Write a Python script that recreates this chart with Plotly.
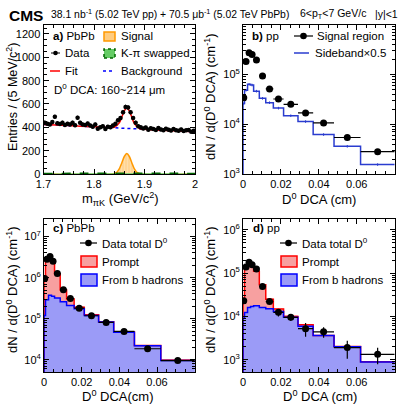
import numpy as np
import plotly.graph_objects as go

W, H = 399, 407
FONT = "Liberation Sans, Arial, Helvetica, sans-serif"

# ---------------- panel a) PbPb, m_piK in the 160-214 um DCA bin
mass_bin = 0.005
mass_centers = np.arange(1.7 + mass_bin / 2, 2.0, mass_bin)
mass_counts = [440, 430, 425, 445, 490, 435, 428, 440, 420, 430,
               425, 440, 418, 482, 440, 425, 420, 432, 415, 405,
               425, 388, 400, 410, 385, 405, 400, 415, 430, 460,
               480, 530, 575, 570, 530, 480, 440, 410, 400, 390,
               398, 380, 392, 385, 378, 395, 382, 375, 388, 380,
               372, 385, 376, 370, 382, 368, 375, 378, 362, 370]

fit_x = [1.70, 1.75, 1.80, 1.83, 1.84, 1.85, 1.855, 1.86, 1.865, 1.87, 1.875, 1.88, 1.89, 1.90, 1.95, 2.00]
fit_y = [425, 415, 404, 398, 400, 438, 488, 542, 566, 540, 484, 432, 390, 384, 373, 363]
bkg_x = [1.70, 2.00]
bkg_y = [425, 363]
sig_x = [1.70, 1.835, 1.845, 1.85, 1.855, 1.86, 1.865, 1.87, 1.875, 1.88, 1.885, 1.895, 2.00]
sig_y = [0, 0, 15, 44, 95, 150, 175, 150, 95, 44, 15, 0, 0]
swap_x = [1.70, 1.78, 1.865, 1.95, 2.00]
swap_y = [4, 6, 7, 6, 4]

# ---------------- DCA distributions
dca_edges = [0, 0.0008, 0.0024, 0.004, 0.0056, 0.0086, 0.012, 0.016,
             0.0214, 0.029, 0.037, 0.048, 0.062, 0.08]

# b) pp signal region and sideband x 0.5
pp_signal = [3.4e4, 1.8e5, 2.7e5, 2.5e5, 1.95e5, 9.3e4, 5.1e4, 3.2e4,
             2.5e4, 1.68e4, 1.06e4, 5.4e3, 2.8e3]
pp_sideband = [2.6e4, 4.8e4, 6.3e4, 6.1e4, 4.6e4, 3.3e4, 2.7e4, 2.1e4,
               1.48e4, 1.13e4, 6.2e3, 3.6e3, 1.55e3]

# c) PbPb total / prompt / non-prompt
pbpb_data = [9.5e5, 2.8e6, 3.3e6, 2.5e6, 1.26e6, 5.1e5, 3.1e5, 1.8e5,
             1.18e5, 8.1e4, 4.9e4, 1.85e4, 9.5e3]
pbpb_data_err = [5e4, 1.2e5, 1.3e5, 1.1e5, 6e4, 2.5e4, 1.6e4, 1e4,
                 7e3, 5e3, 3e3, 1.5e3, 1.2e3]
pbpb_prompt = [8.8e5, 2.5e6, 2.9e6, 2.25e6, 9.3e5, 2.4e5, 9.0e4, 1.5e4,
               4e3, 1e3, 5e2, 1e2, 5e1]
pbpb_nonprompt = [1.2e5, 2.9e5, 3.7e5, 3.5e5, 3.2e5, 2.6e5, 2.1e5, 1.75e5,
                  1.2e5, 8.3e4, 4.7e4, 2.2e4, 9.6e3]

# d) pp total / prompt / non-prompt
pp_data = [2.3e4, 1.38e5, 1.78e5, 1.56e5, 1.24e5, 4.9e4, 2.2e4, 1.24e4,
           9.5e3, 5.2e3, 4.4e3, 1.9e3, 1.33e3]
pp_data_err = [2.5e3, 7e3, 9e3, 8e3, 7e3, 4e3, 2.5e3, 2.4e3,
               1.7e3, 1.8e3, 1.2e3, 8.5e2, 5.5e2]
pp_prompt = [1.5e4, 1.26e5, 1.62e5, 1.39e5, 9.2e4, 3.8e4, 1.0e4, 1.8e3,
             5e2, 5e2, 1e1, 1e1, 1e1]
pp_nonprompt = [9e3, 1.23e4, 1.6e4, 1.7e4, 1.77e4, 1.6e4, 1.5e4, 1.3e4,
                9.5e3, 5.9e3, 3.6e3, 2.0e3, 8.8e2]

edges = np.array(dca_edges)
centers = 0.5 * (edges[1:] + edges[:-1])
halfw = 0.5 * (edges[1:] - edges[:-1])
widths = edges[1:] - edges[:-1]


def px(x):
    return x / W


def py(y):
    return 1 - y / H


def step(vals):
    # outline of a histogram, starting from below the axis
    return list(edges[:1]) + list(edges), [1e-3] + list(vals) + [vals[-1]]


fig = go.Figure()

# ---- a)
fig.add_trace(go.Scatter(x=sig_x, y=sig_y, mode="lines", line=dict(color="#ff9900", width=1.5, shape="spline", smoothing=0.6),
                         fill="tozeroy", fillcolor="rgba(255,204,128,0.8)",
                         fillpattern=dict(shape="|", fgcolor="#ffb84d", bgcolor="#ffe0b0", size=3, solidity=0.4),
                         xaxis="x", yaxis="y"))
fig.add_trace(go.Scatter(x=swap_x, y=swap_y, mode="lines", line=dict(color="#006400", width=1.5, dash="dash", shape="spline"),
                         fill="tozeroy", fillcolor="#66cc66", xaxis="x", yaxis="y"))
fig.add_trace(go.Scatter(x=bkg_x, y=bkg_y, mode="lines", line=dict(color="#0000ff", width=1.5, dash="dot"),
                         xaxis="x", yaxis="y"))
fig.add_trace(go.Scatter(x=fit_x, y=fit_y, mode="lines", line=dict(color="#ff0000", width=1.5, shape="spline", smoothing=0.8),
                         xaxis="x", yaxis="y"))
fig.add_trace(go.Scatter(x=mass_centers, y=mass_counts, mode="markers",
                         marker=dict(color="black", size=4.5),
                         error_y=dict(type="data", array=np.sqrt(mass_counts) * 0.8, color="black", thickness=1, width=0),
                         xaxis="x", yaxis="y"))

# ---- b)
sx, sy = step(pp_sideband)
fig.add_trace(go.Scatter(x=sx, y=sy, mode="lines", line=dict(color="#2a3ccf", width=1.5, shape="hv"),
                         xaxis="x2", yaxis="y2"))
fig.add_trace(go.Scatter(x=centers, y=pp_sideband, mode="markers", marker=dict(size=0.1, color="#2a3ccf"),
                         error_y=dict(type="percent", value=6, color="#2a3ccf", thickness=1, width=0),
                         xaxis="x2", yaxis="y2"))
fig.add_trace(go.Scatter(x=centers, y=pp_signal, mode="markers", marker=dict(color="black", size=7),
                         error_x=dict(type="data", array=halfw, color="black", thickness=1.2, width=0),
                         error_y=dict(type="percent", value=4, color="black", thickness=1.2, width=0),
                         xaxis="x2", yaxis="y2"))

# ---- c) and d)
for xa, ya, prompt, nonprompt, data, derr in [("x3", "y3", pbpb_prompt, pbpb_nonprompt, pbpb_data, pbpb_data_err),
                                                ("x4", "y4", pp_prompt, pp_nonprompt, pp_data, pp_data_err)]:
    fig.add_trace(go.Bar(x=centers, y=nonprompt, width=widths, marker=dict(color="#9b9bf7", line=dict(width=0.6, color="#9b9bf7")),
                         xaxis=xa, yaxis=ya))
    fig.add_trace(go.Bar(x=centers, y=prompt, width=widths, marker=dict(color="#f7a0a0", line=dict(width=0.6, color="#f7a0a0")),
                         xaxis=xa, yaxis=ya))
    tx, ty = step(list(np.add(prompt, nonprompt)))
    fig.add_trace(go.Scatter(x=tx, y=ty, mode="lines", line=dict(color="#ff0000", width=1.5, shape="hv"),
                             xaxis=xa, yaxis=ya))
    bx, by = step(nonprompt)
    fig.add_trace(go.Scatter(x=bx, y=by, mode="lines", line=dict(color="#0000ff", width=1.5, shape="hv"),
                             xaxis=xa, yaxis=ya))
    fig.add_trace(go.Scatter(x=centers, y=data, mode="markers", marker=dict(color="black", size=7),
                             error_x=dict(type="data", array=halfw, color="black", thickness=1.2, width=0),
                             error_y=dict(type="data", array=derr, color="black", thickness=1.2, width=0),
                             xaxis=xa, yaxis=ya))


def base_axis(**kw):
    d = dict(showline=True, linecolor="black", linewidth=1, mirror="allticks", ticks="inside", ticklen=5,
             tickcolor="black", showgrid=False, zeroline=False, automargin=False,
             tickfont=dict(size=11, family=FONT, color="black"))
    d.update(kw)
    return d


def log_axis(dom, rng, decades):
    minors = [k * 10.0 ** d for d in range(decades[0] - 1, decades[-1] + 1) for k in range(2, 10)]
    return base_axis(domain=dom, type="log", range=rng,
                     tickvals=[10.0 ** d for d in decades],
                     ticktext=["10<sup>%d</sup>" % d for d in decades],
                     minor=dict(tickvals=minors, ticks="inside", ticklen=3, tickcolor="black"))


dca_ticks = dict(tickvals=[0, 0.02, 0.04, 0.06], ticktext=["0", "0.02", "0.04", "0.06"],
                 minor=dict(dtick=0.005, ticks="inside", ticklen=3, tickcolor="black"))

top_dom = [py(174), py(25)]
bot_dom = [py(372), py(219)]
left_dom = [px(43.5), px(195)]
right_dom = [px(243), px(394.7)]

fig.update_layout(
    width=W, height=H, margin=dict(l=0, r=0, t=0, b=0),
    paper_bgcolor="white", plot_bgcolor="white", showlegend=False,
    barmode="stack", bargap=0,
    font=dict(family=FONT, color="black"),
    xaxis=base_axis(domain=left_dom, range=[1.7, 2.0], anchor="y",
                    tickvals=[1.7, 1.8, 1.9, 2.0], ticktext=["1.7", "1.8", "1.9", "2"],
                    minor=dict(dtick=0.02, ticks="inside", ticklen=3, tickcolor="black")),
    yaxis=base_axis(domain=top_dom, range=[0, 1277], anchor="x", dtick=200,
                    minor=dict(dtick=50, ticks="inside", ticklen=3, tickcolor="black")),
    xaxis2=base_axis(domain=right_dom, range=[0, 0.08], anchor="y2", **dca_ticks),
    yaxis2=log_axis(top_dom, [3.0, 5.99], [3, 4, 5]),
    xaxis3=base_axis(domain=[px(44), px(194.7)], range=[0, 0.08], anchor="y3", **dca_ticks),
    yaxis3=log_axis(bot_dom, [3.70, 7.43], [4, 5, 6, 7]),
    xaxis4=base_axis(domain=right_dom, range=[0, 0.08], anchor="y4", **dca_ticks),
    yaxis4=log_axis(bot_dom, [2.715, 6.25], [3, 4, 5, 6]),
)
fig.layout.yaxis2.anchor = "x2"
fig.layout.yaxis3.anchor = "x3"
fig.layout.yaxis4.anchor = "x4"

ann = []
shapes = []


def text(x, y, s, size=11.5, anchor="left", angle=0):
    ann.append(dict(x=px(x), y=py(y), xref="paper", yref="paper", text=s, showarrow=False,
                    xanchor=anchor, yanchor="middle", textangle=angle,
                    font=dict(size=size, family=FONT, color="black")))


def hline(x0, x1, y, color, width=1.5, dash="solid"):
    shapes.append(dict(type="line", xref="paper", yref="paper", x0=px(x0), x1=px(x1), y0=py(y), y1=py(y),
                       line=dict(color=color, width=width, dash=dash)))


def box(x0, x1, y0, y1, fill, line, dash="solid"):
    shapes.append(dict(type="rect", xref="paper", yref="paper", x0=px(x0), x1=px(x1), y0=py(y1), y1=py(y0),
                       fillcolor=fill, line=dict(color=line, width=1.5, dash=dash)))


def dot(x, y, r):
    shapes.append(dict(type="circle", xref="paper", yref="paper", x0=px(x - r), x1=px(x + r),
                       y0=py(y + r), y1=py(y - r), fillcolor="black", line=dict(color="black", width=0)))


# header
text(7, 15, "<b>CMS</b>", size=15.5)
text(49, 14, "38.1 nb<sup>-1</sup> (5.02 TeV pp) + 70.5 \u03bcb<sup>-1</sup> (5.02 TeV PbPb)", size=10.4)
text(298, 14, "6&lt;p<sub>T</sub>&lt;7 GeV/c", size=10.5)
text(373, 14, "|y|&lt;1", size=10.5)

# axis titles
text(12, 97, "Entries / (5 MeV/c<sup>2</sup>)", size=12.5, anchor="center", angle=-90)
text(120, 199, "m<sub>\u03c0K</sub> (GeV/c<sup>2</sup>)", size=13, anchor="center")
text(210, 97, "dN / d(D<sup>0</sup> DCA) (cm<sup>-1</sup>)", size=13, anchor="center", angle=-90)
text(319, 199, "D<sup>0</sup> DCA (cm)", size=13, anchor="center")
text(12, 290, "dN / d(D<sup>0</sup> DCA) (cm<sup>-1</sup>)", size=13, anchor="center", angle=-90)
text(118, 396, "D<sup>0</sup> DCA(cm)", size=13, anchor="center")
text(210, 290, "dN / d(D<sup>0</sup> DCA) (cm<sup>-1</sup>)", size=13, anchor="center", angle=-90)
text(320, 396, "D<sup>0</sup> DCA (cm)", size=13, anchor="center")

# legend a)
text(51, 36, "<b>a)</b> PbPb")
box(104, 115, 32, 41, "#ffcc80", "#ff9900")
text(119, 36, "Signal")
hline(51, 60, 53, "black", 1)
dot(55.5, 53, 2.3)
text(63, 53, "Data")
box(104, 115, 49, 58, "#66cc66", "#006400", dash="dot")
text(119, 53, "K-\u03c0 swapped")
hline(50, 60, 71, "#ff0000")
text(63, 71, "Fit")
hline(103, 115, 71, "#0000ff", dash="dot")
text(119, 71, "Background")
text(52, 89, "D<sup>0</sup> DCA: 160~214 \u03bcm")

# legend b)
text(250, 36, "<b>b)</b> pp")
hline(294, 313, 36, "black", 1.2)
dot(303.5, 36, 3.3)
text(315, 36, "Signal region")
hline(294, 309, 53, "#2a3ccf")
text(313, 53, "Sideband\u00d70.5")

# legends c) and d)
for dx, label in [(0, "<b>c)</b> PbPb"), (200, "<b>d)</b> pp")]:
    text(51 + dx, 228, label)
    hline(80 + dx, 97 + dx, 243, "black", 1.2)
    dot(88.5 + dx, 243, 3.3)
    text(100 + dx, 243, "Data total D<sup>0</sup>")
    box(81 + dx, 97 + dx, 256, 267, "#f7a0a0", "#ff0000")
    text(100 + dx, 262, "Prompt")
    box(81 + dx, 97 + dx, 274, 286, "#9b9bf7", "#0000ff")
    text(100 + dx, 280, "From b hadrons")

fig.update_layout(annotations=ann, shapes=shapes)

# the page has the default 8px body margin; drop it so the figure sits at the corner
fig.write_html("out.html", config={"displayModeBar": False},
               post_script="document.body.style.margin='0';")
